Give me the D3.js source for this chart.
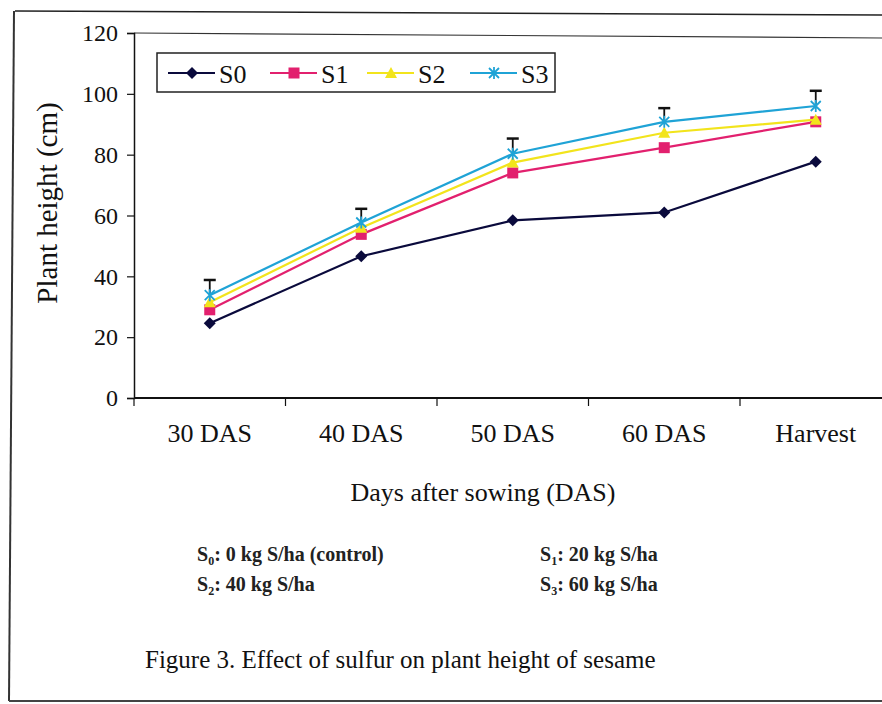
<!DOCTYPE html>
<html>
<head>
<meta charset="utf-8">
<script src="https://cdn.jsdelivr.net/npm/d3@7"></script>
<style>
html,body{margin:0;padding:0;background:#fff;}
svg{display:block;font-family:"Liberation Serif","Times New Roman",serif;}
</style>
</head>
<body>
<svg id="chart" width="882" height="704"></svg>
<script>
const categories = ["30 DAS", "40 DAS", "50 DAS", "60 DAS", "Harvest"];
const seriesNames = ["S0", "S1", "S2", "S3"];
const S0 = [24.6, 46.6, 58.4, 61.0, 77.7];
const S1 = [29.0, 53.8, 74.0, 82.3, 90.8];
const S2 = [31.5, 56.0, 77.4, 87.2, 91.5];
const S3 = [33.8, 57.7, 80.3, 90.8, 96.0];
const S3err = [5.0, 4.5, 5.0, 4.5, 5.0];
const yTicks = [0, 20, 40, 60, 80, 100, 120];
const notes = [
  {sub: "0", text: ": 0 kg S/ha (control)"},
  {sub: "1", text: ": 20 kg S/ha"},
  {sub: "2", text: ": 40 kg S/ha"},
  {sub: "3", text: ": 60 kg S/ha"}
];
const caption = "Figure 3. Effect of sulfur on plant height of sesame";

const svg = d3.select("#chart");
const W = 882, H = 704;
const plotLeft = 134, plotTop = 33, plotBottom = 398, bandW = 151.5;
const FONT = "Liberation Serif";

// outer frame
svg.append("line").attr("x1", 15).attr("y1", 11).attr("x2", W).attr("y2", 15).attr("stroke", "#222").attr("stroke-width", 1.5);
svg.append("line").attr("x1", 14).attr("y1", 11).attr("x2", 9).attr("y2", 701).attr("stroke", "#333").attr("stroke-width", 2);
svg.append("line").attr("x1", 9).attr("y1", 701).attr("x2", W).attr("y2", 701).attr("stroke", "#444").attr("stroke-width", 2);

const x = d3.scaleBand().domain(categories).range([plotLeft, plotLeft + bandW * categories.length]).padding(0);
const y = d3.scaleLinear().domain([0, 120]).range([plotBottom, plotTop]);
const cx = c => x(c) + x.bandwidth() / 2;

// plot top border
svg.append("line").attr("x1", plotLeft).attr("x2", W).attr("y1", plotTop).attr("y2", plotTop + 5).attr("stroke", "#333").attr("stroke-width", 1.2);

// y axis
const yAxis = d3.axisLeft(y).tickValues(yTicks).tickSize(7).tickPadding(9).tickFormat(d3.format("d"));
const gy = svg.append("g").attr("transform", `translate(${plotLeft},0)`).call(yAxis);
gy.select(".domain").attr("stroke", "#111").attr("stroke-width", 1.5);
gy.selectAll(".tick line").attr("stroke", "#111").attr("stroke-width", 1.2);
gy.selectAll(".tick text").attr("font-size", 24).attr("fill", "#111").attr("font-family", FONT);

// x axis
const xAxis = d3.axisBottom(x).tickSize(0).tickPadding(26);
const gx = svg.append("g").attr("transform", `translate(0,${plotBottom})`).call(xAxis);
gx.select(".domain").attr("stroke", "#111").attr("stroke-width", 2).attr("d", `M${plotLeft},0H${W}`);
gx.selectAll(".tick text").attr("font-size", 26).attr("fill", "#111").attr("font-family", FONT);
// boundary ticks
const bounds = categories.map(c => x(c));
svg.append("g").selectAll("line").data(bounds).join("line")
  .attr("x1", d => d).attr("x2", d => d).attr("y1", plotBottom).attr("y2", plotBottom + 8)
  .attr("stroke", "#111").attr("stroke-width", 1.2);

// axis titles
svg.append("text").attr("x", 483).attr("y", 501).attr("text-anchor", "middle")
  .attr("font-size", 26).attr("fill", "#111").text("Days after sowing (DAS)");
svg.append("text").attr("transform", "translate(57,203) rotate(-90)").attr("text-anchor", "middle")
  .attr("font-size", 29).attr("fill", "#111").text("Plant height (cm)");

// series
const series = [
  {name: "S0", values: S0, color: "#0a0a3c", marker: "diamond"},
  {name: "S1", values: S1, color: "#e2206e", marker: "square"},
  {name: "S2", values: S2, color: "#f2e41c", marker: "triangle"},
  {name: "S3", values: S3, color: "#1fa3d6", marker: "star"}
];

const line = d3.line().x((d, i) => cx(categories[i])).y(d => y(d));

function drawMarker(g, type, px, py, color) {
  if (type === "diamond") {
    g.append("path").attr("d", `M${px},${py - 6}L${px + 6},${py}L${px},${py + 6}L${px - 6},${py}Z`).attr("fill", color);
  } else if (type === "square") {
    g.append("rect").attr("x", px - 5.5).attr("y", py - 5.5).attr("width", 11).attr("height", 11).attr("fill", color);
  } else if (type === "triangle") {
    g.append("path").attr("d", `M${px},${py - 6}L${px + 6},${py + 5}L${px - 6},${py + 5}Z`).attr("fill", color);
  } else {
    g.append("path").attr("d", `M${px - 5},${py - 5}L${px + 5},${py + 5}M${px - 5},${py + 5}L${px + 5},${py - 5}M${px},${py - 6}L${px},${py + 6}`)
      .attr("stroke", color).attr("stroke-width", 1.8).attr("fill", "none");
  }
}

// error bars (upper) for S3
const eb = svg.append("g");
S3.forEach((v, i) => {
  const px = cx(categories[i]);
  eb.append("line").attr("x1", px).attr("x2", px).attr("y1", y(v)).attr("y2", y(v + S3err[i])).attr("stroke", "#111").attr("stroke-width", 1.8);
  eb.append("line").attr("x1", px - 6).attr("x2", px + 6).attr("y1", y(v + S3err[i])).attr("y2", y(v + S3err[i])).attr("stroke", "#111").attr("stroke-width", 2.5);
});

series.forEach(s => {
  const g = svg.append("g");
  g.append("path").datum(s.values).attr("d", line).attr("fill", "none").attr("stroke", s.color).attr("stroke-width", 2.2);
  s.values.forEach((v, i) => drawMarker(g, s.marker, cx(categories[i]), y(v), s.color));
});

// legend
const lg = svg.append("g");
lg.append("rect").attr("x", 157).attr("y", 53).attr("width", 398).attr("height", 39)
  .attr("fill", "#fff").attr("stroke", "#222").attr("stroke-width", 1.5);
const legX = [168, 270, 367, 470];
series.forEach((s, i) => {
  const lx = legX[i];
  lg.append("line").attr("x1", lx).attr("x2", lx + 47).attr("y1", 73).attr("y2", 73).attr("stroke", s.color).attr("stroke-width", 2.2);
  drawMarker(lg, s.marker, lx + 24, 73, s.color);
  lg.append("text").attr("x", lx + 51).attr("y", 83).attr("font-size", 26).attr("fill", "#111").text(s.name);
});

// notes
const notePos = [[197, 561], [540, 561], [197, 591], [540, 591]];
notes.forEach((n, i) => {
  const t = svg.append("text").attr("x", notePos[i][0]).attr("y", notePos[i][1])
    .attr("font-size", 20).attr("font-weight", "bold").attr("fill", "#222");
  t.append("tspan").text("S");
  t.append("tspan").attr("font-size", 12).attr("dy", 4).text(n.sub);
  t.append("tspan").attr("dy", -4).text(n.text);
});

svg.append("text").attr("x", 145).attr("y", 668).attr("font-size", 25).attr("fill", "#111").text(caption);
</script>
</body>
</html>
